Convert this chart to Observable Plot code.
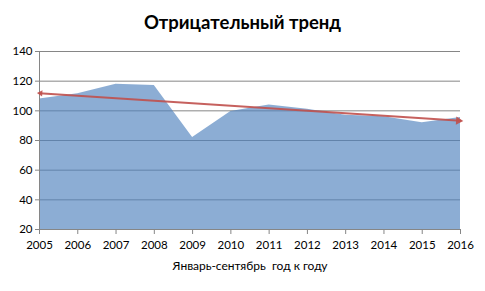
<!DOCTYPE html>
<html>
<head>
<meta charset="utf-8">
<script src="https://cdn.jsdelivr.net/npm/d3@7"></script>
<script src="https://cdn.jsdelivr.net/npm/@observablehq/plot@0.6"></script>
<style>
  body { margin: 0; background: #fff; font-family: Lato, "Open Sans", sans-serif; }
  #title { height: 40px; width: 485px; text-align: center; font-weight: bold; font-size: 18.5px; line-height: 44px; color: #000; }
</style>
</head>
<body>
<div id="title">Отрицательный тренд</div>
<div id="chart"></div>
<script>
const years = [2005, 2006, 2007, 2008, 2009, 2010, 2011, 2012, 2013, 2014, 2015, 2016];
const values = [108, 111.5, 118, 117, 82, 99.5, 104, 101, 97, 96, 92, 95.5];
const trendYears = [2005, 2016];
const trendValues = [111.9, 93.3];
const yTicks = [20, 40, 60, 80, 100, 120, 140];
const xLabel = "Январь-сентябрь  год к году";

const idx = years.map((_, i) => i);
const trend = trendYears.map((y, i) => ({year: y, value: trendValues[i]}));

const chart = Plot.plot({
  width: 485,
  height: 251,
  marginTop: 11,
  marginBottom: 62,
  marginLeft: 39,
  marginRight: 25,
  style: {fontFamily: "Lato, 'Open Sans', sans-serif", fontSize: "11.5px", color: "#000", background: "#fff"},
  x: {domain: [2005, 2016], label: null},
  y: {domain: [20, 140], label: null},
  marks: [
    Plot.ruleY(yTicks.slice(1), {stroke: "#868686", strokeWidth: 1, strokeOpacity: 1}),
    Plot.areaY(idx, {x: i => years[i], y1: 20, y2: i => values[i], fill: "#4F81BD", fillOpacity: 0.65}),
    Plot.ruleX([2005], {stroke: "#868686", strokeWidth: 1}),
    Plot.ruleY([20], {stroke: "#868686", strokeWidth: 1}),
    Plot.axisY(yTicks, {tickSize: 4, tickPadding: 3, stroke: "#868686", label: null, fill: "#000"}),
    Plot.axisX(years, {tickSize: 5, tickPadding: 6, stroke: "#868686", tickFormat: d => String(d), label: null, fill: "#000"}),
    Plot.line(trend, {x: "year", y: "value", stroke: "#C0504D", strokeWidth: 2, strokeOpacity: 0.9}),
    Plot.dot(trend.slice(1), {x: "year", y: "value", symbol: "triangle2", r: 4, fill: "#C0504D", fillOpacity: 0.9, stroke: "none", rotate: 93.75, dx: -2}),
    Plot.dot(trend.slice(0, 1), {x: "year", y: "value", symbol: "triangle2", r: 3, fill: "#C0504D", fillOpacity: 0.9, stroke: "none", rotate: -86.25, dx: 1}),
    Plot.text([xLabel], {text: d => d, frameAnchor: "bottom", dy: 40, fontSize: 12, fill: "#000"})
  ]
});
document.getElementById("chart").appendChild(chart);
</script>
</body>
</html>
